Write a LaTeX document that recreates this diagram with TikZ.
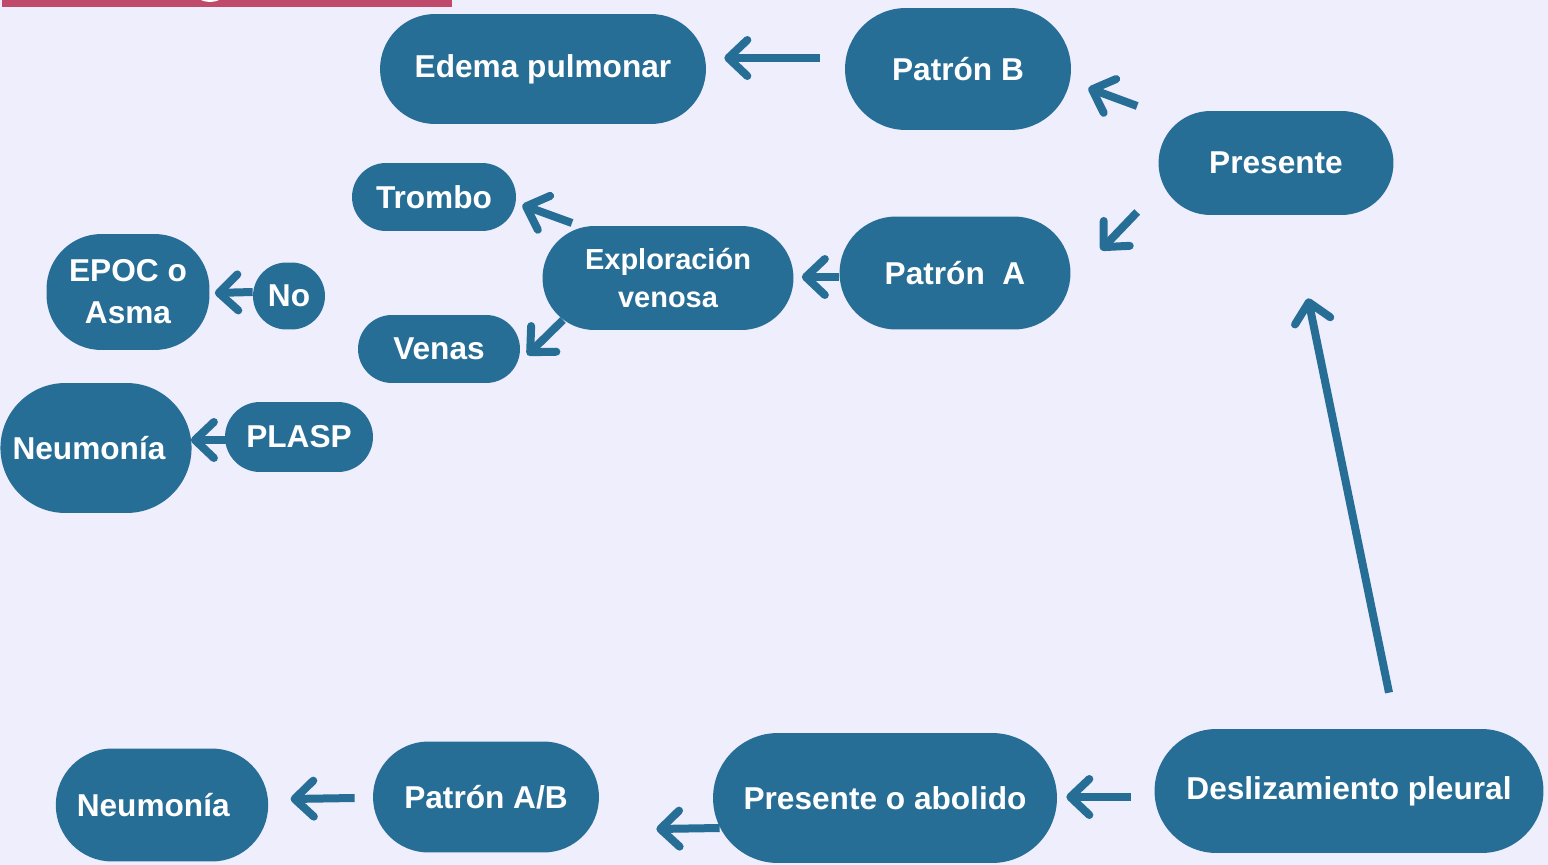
\documentclass[tikz,border=0pt]{standalone}
\usepackage{fontspec}
\setmainfont{Liberation Sans}
\usetikzlibrary{arrows.meta,shapes.misc}

\definecolor{fondo}{HTML}{EFEEFC}
\definecolor{azul}{HTML}{276E96}
\definecolor{rosa}{HTML}{BF4A6B}

\tikzset{
  caja/.style={rounded rectangle, fill=azul, text=white, inner sep=0pt,
    align=center, font=\bfseries\fontsize{18}{22}\selectfont},
  flecha/.style={draw=azul, line width=0.16cm,
    -{Straight Barb[round, length=0.38cm, width=0.72cm]}}
}

\begin{document}
\begin{tikzpicture}[x=0.02cm, y=-0.02cm]
  \useasboundingbox (0,0) rectangle (1548,865);
  \fill[fondo] (0,0) rectangle (1548,865);

  % barra superior
  \begin{scope}
    \clip (2,0) rectangle (452,7);
    \fill[rosa] (2,0) rectangle (452,7);
    \fill[white] (210,-30) ellipse (27 and 32);
  \end{scope}

  % nodos
  \node[caja, minimum width=6.52cm, minimum height=2.2cm] (ep) at (543,69) {Edema pulmonar};
  \node[caja, minimum width=4.52cm, minimum height=2.44cm] (pb) at (958,69) {Patrón B};
  \node[caja, minimum width=4.7cm, minimum height=2.08cm] (pr) at (1276,163) {Presente};
  \node[caja, minimum width=4.62cm, minimum height=2.26cm] (pa) at (955,273) {Patrón~~A};
  \node[caja, minimum width=5.02cm, minimum height=2.08cm,
    font=\bfseries\fontsize{16.5}{21.5}\selectfont] (ev) at (668,278) {Exploración\\venosa};
  \node[caja, minimum width=3.28cm, minimum height=1.36cm] (tr) at (434,197) {Trombo};
  \node[caja, minimum width=3.24cm, minimum height=1.36cm] (ve) at (439,349) {Venas};
  \node[caja, rectangle, rounded corners=1.1cm, minimum width=3.26cm, minimum height=2.32cm] (ea) at (128,292) {EPOC o\\[2pt]Asma};
  \node[caja, minimum width=1.44cm, minimum height=1.34cm] (no) at (289,296) {No};
  \node[caja, minimum width=3.78cm, minimum height=2.6cm, text width=3.78cm] (n1) at (96,448) {\hspace*{-8pt}Neumonía};
  \node[caja, minimum width=2.96cm, minimum height=1.4cm] (pl) at (299,437) {PLASP};
  \node[caja, minimum width=7.78cm, minimum height=2.48cm] (dp) at (1349,791) {Deslizamiento pleural};
  \node[caja, minimum width=6.88cm, minimum height=2.6cm] (pob) at (885,798) {Presente o abolido};
  \node[caja, minimum width=4.52cm, minimum height=2.22cm] (pab) at (486,797) {Patrón A/B};
  \node[caja, minimum width=4.2cm, minimum height=2.26cm, text width=4.2cm] (n2) at (162,805) {\hspace*{-10pt}Neumonía};

  % flechas
  \draw[flecha] ([shift={(-25,-11)}]pb.west) -- ([shift={(18,-11)}]ep.east);
  \draw[flecha] ([shift={(-21,-57)}]pr.west) -- ([shift={(17,19)}]pb.east);
  \draw[flecha] ([shift={(-21,49)}]pr.west) -- ([shift={(30,-23)}]pa.east);
  \draw[flecha] ([shift={(0,4)}]pa.west) -- ([shift={(8,-1)}]ev.east);
  \draw[flecha] ([shift={(-96,-55)}]ev.center) -- ([shift={(6,8)}]tr.east);
  \draw[flecha] ([shift={(-105,42)}]ev.center) -- ([shift={(7,6)}]ve.east);
  \draw[flecha] ([shift={(0,-4)}]no.west) -- ([shift={(5,1)}]ea.east);
  \draw[flecha] ([shift={(2,3)}]pl.west) -- ([shift={(-1,-8)}]n1.east);
  \draw[flecha] ([shift={(40,-36)}]dp.north) -- ([shift={(32,83)}]pr.south);
  \draw[flecha] ([shift={(-23,6)}]dp.west) -- ([shift={(9,-1)}]pob.east);
  \draw[flecha] ([shift={(7,30)}]pob.west) -- ([shift={(57,32)}]pab.east);
  \draw[flecha] ([shift={(-18,1)}]pab.west) -- ([shift={(22,-6)}]n2.east);
\end{tikzpicture}
\end{document}
